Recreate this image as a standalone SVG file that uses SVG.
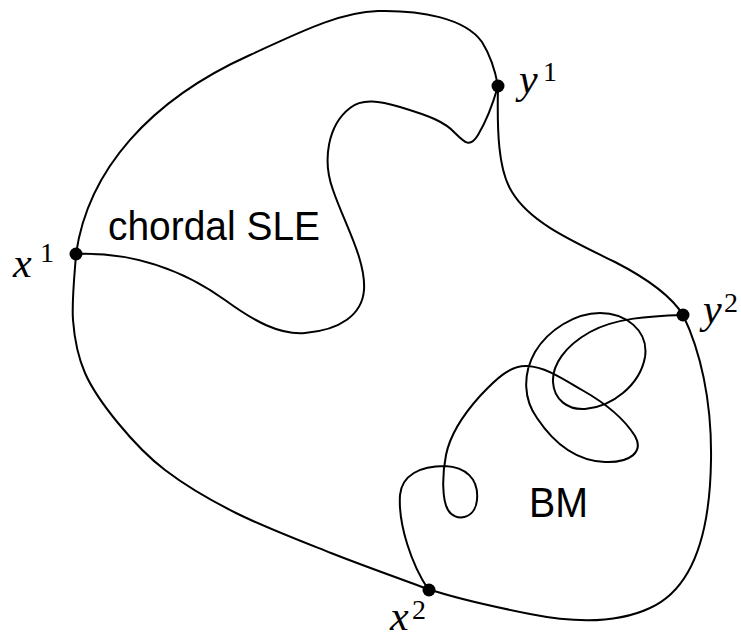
<svg xmlns="http://www.w3.org/2000/svg" width="741" height="639" viewBox="0 0 741 639">
<style>
.c{fill:none;stroke:#000;stroke-width:2;stroke-linejoin:round;stroke-linecap:round}
.d{fill:#000}
.m{font-family:"Liberation Serif","DejaVu Serif",serif;font-style:italic;font-size:42px;fill:#000}
.s{font-family:"Liberation Serif","DejaVu Serif",serif;font-size:28px;fill:#000}
.t{font-family:"Liberation Sans",Arial,sans-serif;fill:#000}
</style>
<rect width="741" height="639" fill="#fff"/>
<g id="connectors">
<path id="boundary-x1-y1" class="c" d="M 76,254 C 88,170 150,100 250,55 C 300,32 340,12 378,11 C 420,10 465,18 482,42 C 492,58 496,75 498,86"/>
<path id="boundary-y1-y2" class="c" d="M 498,86 C 497,130 498,170 512,192 C 530,222 570,240 615,262 C 650,280 672,297 683,315"/>
<path id="boundary-y2-x2" class="c" d="M 683,315 C 700,350 712,400 711,460 C 710,540 690,590 650,608 C 620,622 580,624 530,614 C 490,606 455,598 428,589"/>
<path id="boundary-x2-x1" class="c" d="M 428,589 C 411.8,583 363,565.7 331,553 C 299,540.3 263.7,526.8 236,513 C 208.3,499.2 184.7,485 165,470 C 145.3,455 131.3,439.2 118,423 C 104.7,406.8 92.5,390.2 85,373 C 77.5,355.8 74.5,339.8 73,320 C 71.5,300.2 75.5,265 76,254"/>
<path id="sle" class="c" d="M 76,254 C 130,252 180,268 225,300 C 255,322 280,335 305,333 C 340,330 362,315 364,290 C 366,260 345,225 333,190 C 322,160 328,125 350,108 C 362,98 380,101 400,107 C 430,116 445,122 455,133 C 465,143 470,148 478,135 C 487,120 494,100 498,86"/>
<path id="bm" class="c" d="M 683,315 C 650,316 615,318 590,332 C 565,346 552,365 553,382 C 554,400 568,410 585,409 C 612,407 640,385 645,357 C 649,330 625,313 600,313 C 575,313 548,330 535,352 C 522,375 524,400 537,418 C 555,445 578,461 605,462 C 630,463 644,452 635,436 C 625,420 605,403 582,390 C 560,377 545,367 527,366 C 510,365 495,380 480,396 C 462,416 450,435 446,455 C 442,475 442,500 448,510 C 455,522 475,520 477,500 C 479,478 465,467 445,466 C 420,466 402,475 400,495 C 398,525 412,565 428,589"/>
</g>
<g id="x1"><circle class="d" cx="76" cy="254" r="6.5"/><text class="m" x="13" y="277">x</text><text class="s" x="40" y="262">1</text></g>
<g id="y1"><circle class="d" cx="498" cy="86" r="6.5"/><text class="m" x="519" y="93">y</text><text class="s" x="543" y="81">1</text></g>
<g id="y2"><circle class="d" cx="683" cy="315" r="6.5"/><text class="m" x="703" y="323">y</text><text class="s" x="724" y="312">2</text></g>
<g id="x2"><circle class="d" cx="429" cy="590" r="6.5"/><text class="m" x="390" y="630">x</text><text class="s" x="412" y="619">2</text></g>
<g id="labels"><text class="t" x="108" y="240" font-size="40" textLength="212" lengthAdjust="spacingAndGlyphs">chordal SLE</text><text class="t" x="529" y="517" font-size="42" textLength="59" lengthAdjust="spacingAndGlyphs">BM</text></g>
</svg>
